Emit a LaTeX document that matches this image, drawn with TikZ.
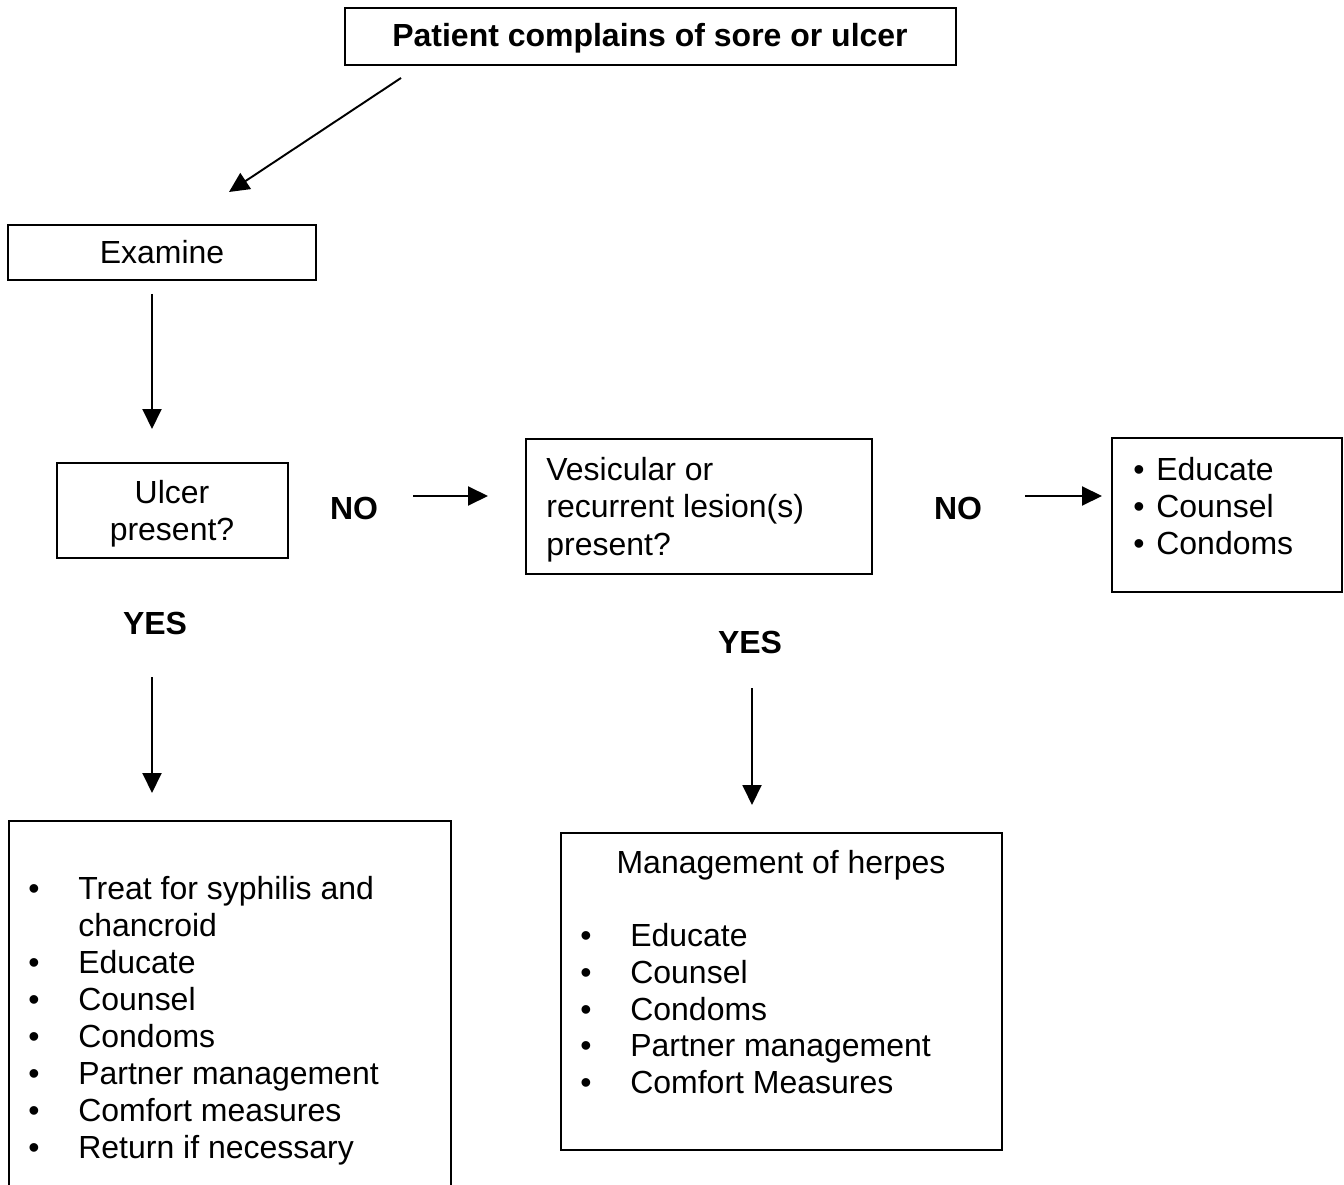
\documentclass[tikz,border=0pt]{standalone}
\usepackage{fontspec}
\setmainfont{Liberation Sans}
\usetikzlibrary{arrows.meta}
\newcommand{\bul}[1]{\makebox[#1][l]{\textbullet}}
\begin{document}
\begin{tikzpicture}[x=0.02cm,y=-0.02cm,
  box/.style n args={2}{draw, line width=1.1pt, inner sep=0,
    minimum width=#1*0.02cm, minimum height=#2*0.02cm},
  txt/.style={inner sep=0, font=\fontsize{18.2}{22}\selectfont},
  btxt/.style={txt, font=\fontsize{18.2}{22}\selectfont\bfseries},
  flow/.style={line width=1.1pt, -{Triangle[length=0.4cm, width=0.38cm]}}
]
\useasboundingbox (0,0) rectangle (1344,1185);

% boxes
\node[box={611}{57}] (start) at (650.5,36.5) {};
\node[box={308}{55}] (exam) at (162,252.5) {};
\node[box={231}{95}] (ulcer) at (172.5,510.5) {};
\node[box={346}{135}] (vesic) at (699,506.5) {};
\node[box={230}{154}] (edu) at (1227,515) {};
\node[box={441}{317}] (herpes) at (781.5,991.5) {};
\node[box={440}{363}, draw=none] (treat) at (230,1003.5) {};
\draw[line width=1.1pt] (treat.south west) |- (treat.north east) -- (treat.south east);

% box texts
\node[btxt, anchor=base] (tstart) at (650,47) {Patient complains of sore or ulcer};
\node[txt, anchor=base] (texam) at (162,264) {Examine};
\node[txt, anchor=base] (tulc1) at (172,503) {Ulcer};
\node[txt, anchor=base] (tulc2) at (172,540) {present?};
\node[txt, anchor=base west] (tves1) at (546,480) {Vesicular or};
\node[txt, anchor=base west] (tves2) at (546,517) {recurrent lesion(s)};
\node[txt, anchor=base west] (tves3) at (546,555) {present?};

\node[txt, anchor=base west] (tedu1) at (1133,480) {\bul{0.46cm}Educate};
\node[txt, anchor=base west] (tedu2) at (1133,517) {\bul{0.46cm}Counsel};
\node[txt, anchor=base west] (tedu3) at (1133,554) {\bul{0.46cm}Condoms};

\node[txt, anchor=base west] (ttr1) at (28,899) {\bul{1cm}Treat for syphilis and};
\node[txt, anchor=base west] (ttr2) at (78,936) {chancroid};
\node[txt, anchor=base west] (ttr3) at (28,973) {\bul{1cm}Educate};
\node[txt, anchor=base west] (ttr4) at (28,1010) {\bul{1cm}Counsel};
\node[txt, anchor=base west] (ttr5) at (28,1047) {\bul{1cm}Condoms};
\node[txt, anchor=base west] (ttr6) at (28,1084) {\bul{1cm}Partner management};
\node[txt, anchor=base west] (ttr7) at (28,1121) {\bul{1cm}Comfort measures};
\node[txt, anchor=base west] (ttr8) at (28,1158) {\bul{1cm}Return if necessary};

\node[txt, anchor=base] (thead) at (781,873) {Management of herpes};
\node[txt, anchor=base west] (thr1) at (580,946) {\bul{1cm}Educate};
\node[txt, anchor=base west] (thr2) at (580,983) {\bul{1cm}Counsel};
\node[txt, anchor=base west] (thr3) at (580,1020) {\bul{1cm}Condoms};
\node[txt, anchor=base west] (thr4) at (580,1056) {\bul{1cm}Partner management};
\node[txt, anchor=base west] (thr5) at (580,1093) {\bul{1cm}Comfort Measures};

% branch labels
\node[btxt, anchor=base] (no1) at (354,519) {NO};
\node[btxt, anchor=base] (no2) at (958,519) {NO};
\node[btxt, anchor=base] (yes1) at (155,634) {YES};
\node[btxt, anchor=base] (yes2) at (750,653) {YES};

% connector end points
\coordinate (a1s) at (401,78);  \coordinate (a1e) at (229,192);
\coordinate (a2s) at (152,294); \coordinate (a2e) at (152,429);
\coordinate (a3s) at (413,496); \coordinate (a3e) at (488,496);
\coordinate (a4s) at (1025,496);\coordinate (a4e) at (1102,496);
\coordinate (a5s) at (152,677); \coordinate (a5e) at (152,793);
\coordinate (a6s) at (752,688); \coordinate (a6e) at (752,805);

\draw[flow] (a1s) -- (a1e);
\draw[flow] (a2s) -- (a2e);
\draw[flow] (a3s) -- (a3e);
\draw[flow] (a4s) -- (a4e);
\draw[flow] (a5s) -- (a5e);
\draw[flow] (a6s) -- (a6e);
\end{tikzpicture}
\end{document}
